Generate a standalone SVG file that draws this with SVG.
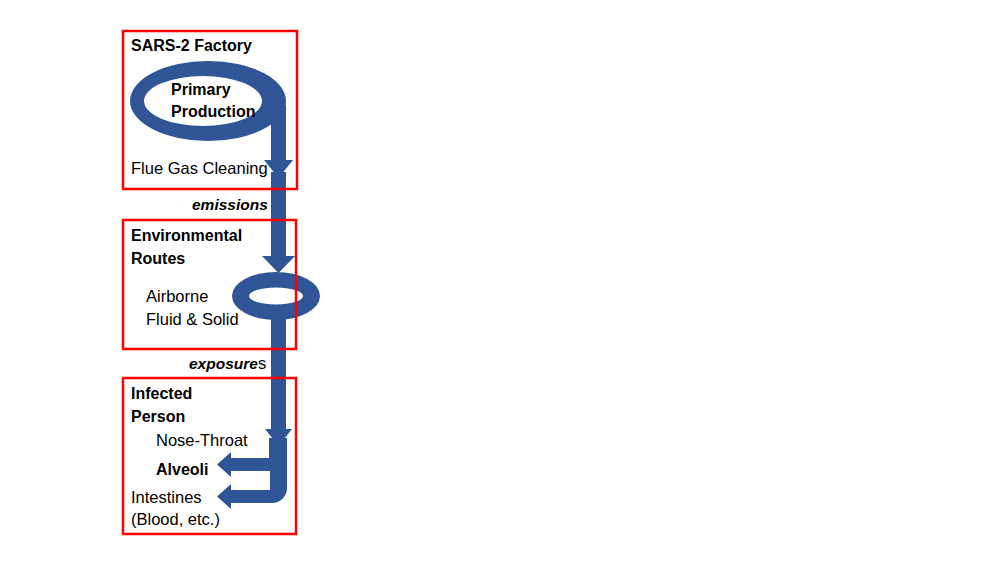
<svg xmlns="http://www.w3.org/2000/svg" width="1000" height="562" viewBox="0 0 1000 562">
<style>
.box{fill:none;stroke:#FF0000;stroke-width:2.5}
.flow{fill:#2F5597;stroke:none}
.t{font-family:"Liberation Sans",Arial,sans-serif;font-size:16.5px;fill:#000}
.b{font-weight:bold;font-size:16px}
.bi{font-weight:bold;font-style:italic;font-size:15.5px}
</style>
<rect width="1000" height="562" fill="#FFFFFF"/>
<g id="connectors">
<path class="flow" fill-rule="evenodd" d="M130,101 A78,40 0 1 1 286,101 A78,40 0 1 1 130,101 Z M144,101 A59,25 0 1 0 262,101 A59,25 0 1 0 144,101 Z"/>
<polygon class="flow" points="271,105 286,105 286,160 293,160 278.5,178 264,160 271,160"/>
<polygon class="flow" points="271,172 286,172 286,256 295,256 278.5,273 262,256 271,256"/>
<path class="flow" fill-rule="evenodd" d="M232,296 A44,24 0 1 1 320,296 A44,24 0 1 1 232,296 Z M249,296 A27,8.5 0 1 0 303,296 A27,8.5 0 1 0 249,296 Z"/>
<polygon class="flow" points="271,315 286,315 286,429 292,429 278.5,446 265,429 271,429"/>
<path class="flow" d="M270,438 H287 V489 A15,15 0 0 1 272,503 H231 V509 L217,496.5 L231,484 V490 H270 Z"/>
<path class="flow" d="M269,438 H283 V471 H231 V477 L217,464.5 L231,452 V458 H269 Z"/>
</g>
<g id="factory">
<rect class="box" x="123" y="31" width="174" height="158"/>
<text class="t b" x="131" y="51">SARS-2 Factory</text>
<text class="t b" x="171" y="95">Primary</text>
<text class="t b" x="171" y="117">Production</text>
<text class="t" x="131" y="174">Flue Gas Cleaning</text>
</g>
<g id="emissions-label">
<text class="t bi" x="192" y="210">emissions</text>
</g>
<g id="environment">
<rect class="box" x="123" y="220" width="173" height="129"/>
<text class="t b" x="131" y="241">Environmental</text>
<text class="t b" x="131" y="264">Routes</text>
<text class="t" x="146" y="302">Airborne</text>
<text class="t" x="146" y="325">Fluid &amp; Solid</text>
</g>
<g id="exposures-label">
<text class="t" x="189" y="369"><tspan class="bi">exposure</tspan><tspan>s</tspan></text>
</g>
<g id="person">
<rect class="box" x="123" y="378" width="173" height="156"/>
<text class="t b" x="131" y="399">Infected</text>
<text class="t b" x="131" y="422">Person</text>
<text class="t" x="156" y="446">Nose-Throat</text>
<text class="t b" x="156" y="475">Alveoli</text>
<text class="t" x="131" y="503">Intestines</text>
<text class="t" x="131" y="525">(Blood, etc.)</text>
</g>
</svg>
